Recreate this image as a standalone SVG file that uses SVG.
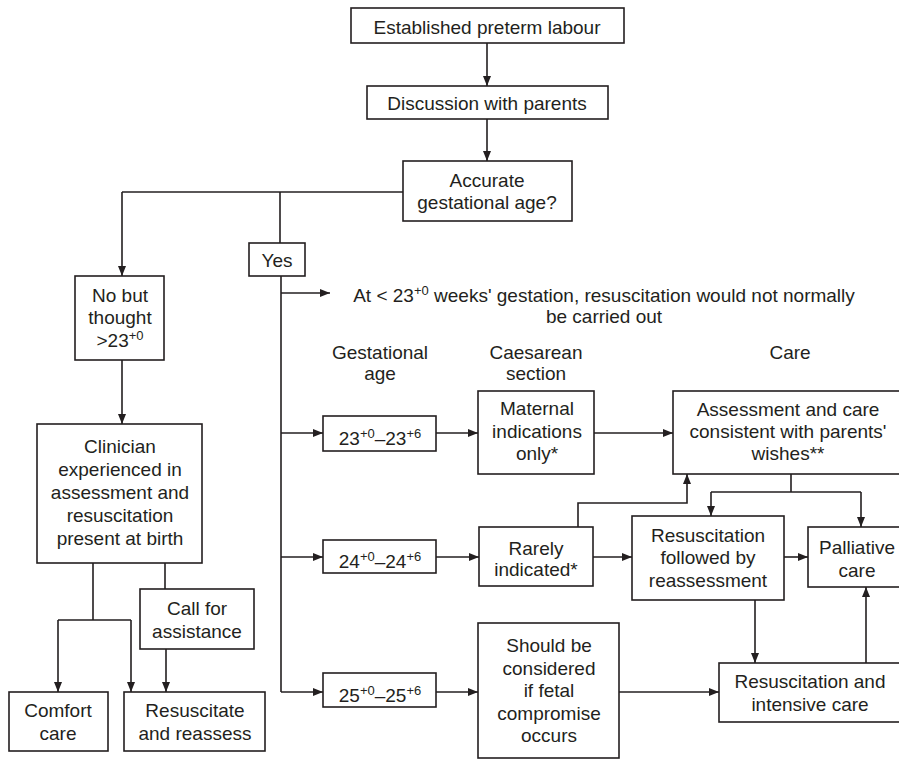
<svg xmlns="http://www.w3.org/2000/svg" width="899" height="761" viewBox="0 0 899 761">
<defs>
<style>
.b{fill:#fff;stroke:#231f20;stroke-width:1.6}
.c{fill:none;stroke:#231f20;stroke-width:1.6}
.a{marker-end:url(#ah)}
text{font-family:"Liberation Sans",Arial,sans-serif;font-size:19px;fill:#231f20;text-anchor:middle}
.sup{font-size:13px}
</style>
<marker id="ah" markerUnits="userSpaceOnUse" markerWidth="10" markerHeight="8" refX="10" refY="4" orient="auto">
<path d="M0,0 L10,4 L0,8 z" fill="#231f20"/>
</marker>
</defs>
<rect width="899" height="761" fill="#fff"/>

<g id="connectors">
<path class="c a" d="M487,43 V86"/>
<path class="c a" d="M487,119 V161"/>
<path class="c" d="M403,192 H122"/>
<path class="c a" d="M122,192 V276"/>
<path class="c" d="M280,192 V243"/>
<path class="c a" d="M122,360 V424"/>
<path class="c" d="M93,563 V620 M58,620 H131"/>
<path class="c a" d="M58,620 V692"/>
<path class="c a" d="M131,620 V692"/>
<path class="c" d="M165,563 V589"/>
<path class="c a" d="M166,649 V692"/>
<path class="c" d="M281,276 V692"/>
<path class="c a" d="M281,293 H330"/>
<path class="c a" d="M281,433 H323"/>
<path class="c a" d="M281,557 H323"/>
<path class="c a" d="M281,692 H323"/>
<path class="c a" d="M436,433 H478"/>
<path class="c a" d="M436,557 H479"/>
<path class="c a" d="M436,692 H478"/>
<path class="c a" d="M594,433 H673"/>
<path class="c a" d="M578,527 V503 H687 V474"/>
<path class="c" d="M791,474 V492 M711,492 H861"/>
<path class="c a" d="M711,492 V516"/>
<path class="c a" d="M861,492 V527"/>
<path class="c a" d="M593,557 H632"/>
<path class="c a" d="M784,557 H808"/>
<path class="c a" d="M755,600 V663"/>
<path class="c a" d="M866,663 V587"/>
<path class="c a" d="M619,692 H719"/>
</g>

<g id="established">
<rect class="b" x="351" y="8" width="273" height="35"/>
<text x="487" y="34">Established preterm labour</text>
</g>
<g id="discussion">
<rect class="b" x="367" y="86" width="241" height="33"/>
<text x="487" y="110">Discussion with parents</text>
</g>
<g id="accurate">
<rect class="b" x="403" y="161" width="169" height="60"/>
<text x="487" y="187">Accurate</text>
<text x="487" y="209">gestational age?</text>
</g>
<g id="nobut">
<rect class="b" x="75" y="276" width="89" height="84"/>
<text x="120" y="302">No but</text>
<text x="120" y="324">thought</text>
<text x="120" y="347">&gt;23<tspan class="sup" dy="-7">+0</tspan></text>
</g>
<g id="clinician">
<rect class="b" x="37" y="424" width="165" height="139"/>
<text x="120" y="453">Clinician</text>
<text x="120" y="476">experienced in</text>
<text x="120" y="499">assessment and</text>
<text x="120" y="522">resuscitation</text>
<text x="120" y="545">present at birth</text>
</g>
<g id="call">
<rect class="b" x="140" y="589" width="114" height="60"/>
<text x="197" y="615">Call for</text>
<text x="197" y="638">assistance</text>
</g>
<g id="comfort">
<rect class="b" x="9" y="692" width="99" height="59"/>
<text x="58" y="717">Comfort</text>
<text x="58" y="740">care</text>
</g>
<g id="resuscitate">
<rect class="b" x="124" y="692" width="141" height="59"/>
<text x="195" y="717">Resuscitate</text>
<text x="195" y="740">and reassess</text>
</g>
<g id="yes">
<rect class="b" x="249" y="243" width="56" height="33"/>
<text x="277" y="267">Yes</text>
</g>
<g id="note">
<text x="604" y="302">At &lt; 23<tspan class="sup" dy="-7">+0</tspan><tspan dy="7"> weeks' gestation, resuscitation would not normally</tspan></text>
<text x="604" y="323">be carried out</text>
</g>
<g id="headers">
<text x="380" y="359">Gestational</text>
<text x="380" y="380">age</text>
<text x="536" y="359">Caesarean</text>
<text x="536" y="380">section</text>
<text x="790" y="359">Care</text>
</g>
<g id="ga23">
<rect class="b" x="323" y="416" width="113" height="35"/>
<text x="380" y="445">23<tspan class="sup" dy="-7">+0</tspan><tspan dy="7">–23</tspan><tspan class="sup" dy="-7">+6</tspan></text>
</g>
<g id="ga24">
<rect class="b" x="323" y="540" width="113" height="33"/>
<text x="380" y="568">24<tspan class="sup" dy="-7">+0</tspan><tspan dy="7">–24</tspan><tspan class="sup" dy="-7">+6</tspan></text>
</g>
<g id="ga25">
<rect class="b" x="323" y="673" width="113" height="34"/>
<text x="380" y="702">25<tspan class="sup" dy="-7">+0</tspan><tspan dy="7">–25</tspan><tspan class="sup" dy="-7">+6</tspan></text>
</g>
<g id="maternal">
<rect class="b" x="478" y="391" width="116" height="83"/>
<text x="537" y="415">Maternal</text>
<text x="537" y="438">indications</text>
<text x="537" y="460">only*</text>
</g>
<g id="rarely">
<rect class="b" x="479" y="527" width="114" height="59"/>
<text x="536" y="555">Rarely</text>
<text x="536" y="576">indicated*</text>
</g>
<g id="should">
<rect class="b" x="478" y="623" width="141" height="135"/>
<text x="549" y="652">Should be</text>
<text x="549" y="675">considered</text>
<text x="549" y="697">if fetal</text>
<text x="549" y="720">compromise</text>
<text x="549" y="742">occurs</text>
</g>
<g id="assessment">
<rect class="b" x="673" y="391" width="232" height="83"/>
<text x="788" y="416">Assessment and care</text>
<text x="788" y="438">consistent with parents'</text>
<text x="788" y="460">wishes**</text>
</g>
<g id="resfollowed">
<rect class="b" x="632" y="516" width="152" height="84"/>
<text x="708" y="542">Resuscitation</text>
<text x="708" y="564">followed by</text>
<text x="708" y="587">reassessment</text>
</g>
<g id="palliative">
<rect class="b" x="808" y="527" width="98" height="60"/>
<text x="857" y="554">Palliative</text>
<text x="857" y="577">care</text>
</g>
<g id="resintensive">
<rect class="b" x="719" y="663" width="185" height="59"/>
<text x="810" y="688">Resuscitation and</text>
<text x="810" y="711">intensive care</text>
</g>
</svg>
